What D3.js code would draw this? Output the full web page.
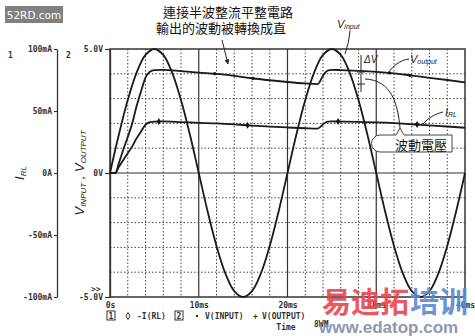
<!DOCTYPE html>
<html>
<head>
<meta charset="utf-8">
<script src="https://cdn.jsdelivr.net/npm/d3@7"></script>
<style>
  body { margin: 0; background: #fff; }
  svg { display: block; }
  .mono { font-family: "DejaVu Sans Mono", monospace; font-weight: bold; font-size: 8px; fill: #333; }
  .cjk { font-family: "Noto Sans CJK TC", sans-serif; font-size: 13px; fill: #111; }
  .lbl { font-family: "Liberation Sans", sans-serif; font-style: italic; fill: #222; }
</style>
</head>
<body>
<div id="graph"></div>
<script>
// input sine (V), read every 1 ms
var inT = [0,1,2,3,4,5,6,7,8,9,10,11,12,13,14,15,16,17,18,19,20,
           21,22,23,24,25,26,27,28,29,30,31,32,33,34,35,36,37,38,39,40];
var inV = [0,1.55,2.94,4.05,4.76,5.00,4.76,4.05,2.94,1.55,0,-1.55,-2.94,-4.05,-4.76,-5.00,-4.76,-4.05,-2.94,-1.55,0,
           1.55,2.94,4.05,4.76,5.00,4.76,4.05,2.94,1.55,0,-1.55,-2.94,-4.05,-4.76,-5.00,-4.76,-4.05,-2.94,-1.55,0];

// output voltage (V)
var outT = [0,0.6,1,1.5,2,2.5,3,3.5,4,4.5,5,6,8,10,12,14,16,18,20,22,23.4,23.7,24,24.3,24.6,25,26,28,30,32,34,36,38,40];
var outV = [0,0,0.4,0.95,1.45,2.0,2.7,3.3,3.85,4.08,4.15,4.16,4.11,4.05,4.0,3.92,3.82,3.74,3.67,3.61,3.58,3.72,3.92,4.07,4.14,4.16,4.15,4.12,4.08,4.02,3.93,3.84,3.75,3.65];

// load current I(RL) (mA)
var curT = [0,0.6,1,1.5,2,2.5,3,3.5,4,4.5,5,6,8,10,12,14,16,18,20,22,23.4,23.7,24,24.3,24.6,25,26,28,30,32,34,36,38,40];
var curA = [0,0,5,10.5,16,21.5,28,33.5,39,41,41.5,41.6,41.1,40.5,40.0,39.2,38.2,37.4,36.7,36.1,35.8,37.2,39.2,40.7,41.4,41.6,41.5,41.2,40.8,40.2,39.3,38.4,37.5,36.5];

// marker positions (ms)
var curMarks = [5.5,15.5,25.7,34.6];
var outMarks = [11.8,16.1,31.5,33.8];

// tick labels
var xTicks = [0,10,20,30,40];
var xTickLabels = ["0s","10ms","20ms","30ms","40ms"];
var vTicks = [-5,0,5];
var vTickLabels = ["-5.0V","0V","5.0V"];
var iTicks = [-100,-50,0,50,100];
var iTickLabels = ["-100mA","-50mA","0A","50mA","100mA"];

var W = 475, H = 336;
var svg = d3.select("#graph").append("svg").attr("width", W).attr("height", H);

var x = d3.scaleLinear().domain([0, 40]).range([110, 465]);
var yV = d3.scaleLinear().domain([-5, 5]).range([297, 49]);
var yI = d3.scaleLinear().domain([-100, 100]).range([297, 49]);

// dotted grid
var gx = d3.range(2, 40, 2).filter(function(d){ return d % 10 != 0; });
var gy = d3.range(-4, 5, 1).filter(function(d){ return d != 0; });
svg.append("g").selectAll("line").data(gx).enter().append("line")
  .attr("x1", d => x(d)).attr("x2", d => x(d)).attr("y1", 49).attr("y2", 297)
  .attr("stroke", "#444").attr("stroke-width", 1).attr("stroke-dasharray", "1.5,2");
svg.append("g").selectAll("line").data(gy).enter().append("line")
  .attr("x1", 110).attr("x2", 465).attr("y1", d => yV(d)).attr("y2", d => yV(d))
  .attr("stroke", "#444").attr("stroke-width", 1).attr("stroke-dasharray", "1.5,2");
// solid grid
svg.append("g").selectAll("line").data([10,20,30]).enter().append("line")
  .attr("x1", d => x(d)).attr("x2", d => x(d)).attr("y1", 49).attr("y2", 297)
  .attr("stroke", "#333").attr("stroke-width", 1.2);
svg.append("line").attr("x1", 110).attr("x2", 465).attr("y1", yV(0)).attr("y2", yV(0))
  .attr("stroke", "#333").attr("stroke-width", 1.2);
svg.append("rect").attr("x", 110).attr("y", 49).attr("width", 355).attr("height", 248)
  .attr("fill", "none").attr("stroke", "#333").attr("stroke-width", 1.5);

// axes
var xAxis = svg.append("g").attr("transform", "translate(0,297)")
  .call(d3.axisBottom(x).tickValues(xTicks).tickSize(0).tickPadding(5)
    .tickFormat(function(d, i){ return xTickLabels[i]; }));
var vAxis = svg.append("g").attr("transform", "translate(110,0)")
  .call(d3.axisLeft(yV).tickValues(vTicks).tickSize(5).tickSizeOuter(0).tickPadding(2)
    .tickFormat(function(d, i){ return vTickLabels[i]; }));
var iAxis = svg.append("g").attr("transform", "translate(57,0)")
  .call(d3.axisLeft(yI).tickValues(iTicks).tickSize(3).tickSizeOuter(0).tickPadding(2)
    .tickFormat(function(d, i){ return iTickLabels[i]; }));
[xAxis, vAxis, iAxis].forEach(function(a){
  a.select(".domain").attr("stroke", "#333").attr("stroke-width", 1.3);
  a.selectAll(".tick line").attr("stroke", "#333").attr("stroke-width", 1.2);
  a.selectAll(".tick text").attr("class", "mono").attr("font-family", null).attr("font-size", null);
});
xAxis.select(".domain").remove();

svg.append("text").attr("class", "mono").attr("x", 8).attr("y", 58).text("1");
svg.append("text").attr("class", "mono").attr("x", 66).attr("y", 58).text("2");
svg.append("text").attr("class", "mono").attr("x", 91).attr("y", 292).text(">>");

// rotated axis titles
var t1 = svg.append("text").attr("class", "lbl").attr("font-size", 13)
  .attr("transform", "translate(24,173) rotate(-90)").attr("text-anchor", "middle");
t1.append("tspan").text("I");
t1.append("tspan").attr("font-size", 8).attr("dy", 2).text("RL");
var t2 = svg.append("text").attr("class", "lbl").attr("font-size", 13)
  .attr("transform", "translate(84,173) rotate(-90)").attr("text-anchor", "middle");
t2.append("tspan").text("V");
t2.append("tspan").attr("font-size", 8).attr("dy", 2).text("INPUT");
t2.append("tspan").attr("dy", -2).text(" , V");
t2.append("tspan").attr("font-size", 8).attr("dy", 2).text("OUTPUT");

// curves
svg.append("path").datum(d3.zip(inT, inV))
  .attr("fill", "none").attr("stroke", "#1a1a1a").attr("stroke-width", 1.8)
  .attr("d", d3.line().x(d => x(d[0])).y(d => yV(d[1])).curve(d3.curveCatmullRom));
svg.append("path").datum(d3.zip(outT, outV))
  .attr("fill", "none").attr("stroke", "#1a1a1a").attr("stroke-width", 1.8)
  .attr("d", d3.line().x(d => x(d[0])).y(d => yV(d[1])).curve(d3.curveMonotoneX));
svg.append("path").datum(d3.zip(curT, curA))
  .attr("fill", "none").attr("stroke", "#1a1a1a").attr("stroke-width", 1.8)
  .attr("d", d3.line().x(d => x(d[0])).y(d => yI(d[1])).curve(d3.curveMonotoneX));

// markers
var curAt = d3.scaleLinear().domain(curT).range(curA);
var outAt = d3.scaleLinear().domain(outT).range(outV);
svg.append("g").selectAll("path").data(curMarks).enter().append("path")
  .attr("transform", d => "translate(" + x(d) + "," + yI(curAt(d)) + ")")
  .attr("d", d3.symbol().type(d3.symbolDiamond).size(14)).attr("fill", "#111");
svg.append("g").selectAll("circle").data(outMarks).enter().append("circle")
  .attr("cx", d => x(d)).attr("cy", d => yV(outAt(d))).attr("r", 1.6).attr("fill", "#111");

// annotations
svg.append("defs").append("marker").attr("id", "arr").attr("viewBox", "0 0 10 10")
  .attr("refX", 9).attr("refY", 5).attr("markerWidth", 5).attr("markerHeight", 5).attr("orient", "auto")
  .append("path").attr("d", "M0,0 L10,5 L0,10 z").attr("fill", "#222");

svg.append("text").attr("class", "cjk").attr("x", 228).attr("y", 17).attr("text-anchor", "middle").text("連接半波整流平整電路");
svg.append("text").attr("class", "cjk").attr("x", 221).attr("y", 33).attr("text-anchor", "middle").text("輸出的波動被轉換成直");
svg.append("path").attr("d", "M222,40 L228,64").attr("stroke", "#222").attr("fill", "none").attr("marker-end", "url(#arr)");

var lv = svg.append("text").attr("class", "lbl").attr("x", 337).attr("y", 28).attr("font-size", 11);
lv.append("tspan").text("V");
lv.append("tspan").attr("font-size", 7).attr("dy", 1).text("input");
svg.append("path").attr("d", "M350,31 Q349,43 345,54").attr("stroke", "#222").attr("fill", "none");

svg.append("text").attr("class", "lbl").attr("x", 364).attr("y", 63).attr("font-size", 10).text("ΔV");
svg.append("path").attr("d", "M361,55 L361,92 M357,72 L365,72 M357,84 L365,84")
  .attr("stroke", "#222").attr("fill", "none");

var lo = svg.append("text").attr("class", "lbl").attr("x", 410).attr("y", 63).attr("font-size", 11);
lo.append("tspan").text("V");
lo.append("tspan").attr("font-size", 7).attr("dy", 1).text("output");
svg.append("path").attr("d", "M409,59 C400,60 393,66 388,73").attr("stroke", "#222").attr("fill", "none");

var li = svg.append("text").attr("class", "lbl").attr("x", 445).attr("y", 116).attr("font-size", 11);
li.append("tspan").text("I");
li.append("tspan").attr("font-size", 7).attr("dy", 1).text("RL");
svg.append("path").attr("d", "M443,112 C435,114 428,118 423,124").attr("stroke", "#222").attr("fill", "none");

svg.append("path").attr("d", "M365,79 C392,80 398,105 400,128").attr("stroke", "#222").attr("fill", "none");
svg.append("path").attr("d", "M380,135 L396,135 L400,128 L404,135 L452,135 L452,152 L380,152 A8.5,8.5 0 0 1 380,135 Z")
  .attr("fill", "#fff").attr("stroke", "#444").attr("stroke-width", 1);
svg.append("text").attr("class", "cjk").attr("x", 395).attr("y", 150).text("波動電壓");

// bottom legend
svg.append("rect").attr("x", 107).attr("y", 311).attr("width", 8).attr("height", 9).attr("fill", "none").attr("stroke", "#333");
svg.append("text").attr("class", "mono").attr("x", 111).attr("y", 319).attr("text-anchor", "middle").text("1");
svg.append("path").attr("transform", "translate(128,316)").attr("d", d3.symbol().type(d3.symbolDiamond).size(14))
  .attr("fill", "none").attr("stroke", "#333");
svg.append("text").attr("class", "mono").attr("x", 137).attr("y", 319).text("-I(RL)");
svg.append("rect").attr("x", 175).attr("y", 311).attr("width", 8).attr("height", 9).attr("fill", "none").attr("stroke", "#333");
svg.append("text").attr("class", "mono").attr("x", 179).attr("y", 319).attr("text-anchor", "middle").text("2");
svg.append("circle").attr("cx", 197).attr("cy", 316).attr("r", 1.2).attr("fill", "#333");
svg.append("text").attr("class", "mono").attr("x", 205).attr("y", 319).text("V(INPUT)");
svg.append("text").attr("class", "mono").attr("x", 253).attr("y", 319).text("+");
svg.append("text").attr("class", "mono").attr("x", 262).attr("y", 319).text("V(OUTPUT)");
svg.append("text").attr("class", "mono").attr("x", 286).attr("y", 330).attr("text-anchor", "middle").text("Time");
svg.append("text").attr("class", "mono").attr("x", 314).attr("y", 327).text("8WM");

// site watermarks
svg.append("rect").attr("x", 5).attr("y", 6).attr("width", 58).attr("height", 17).attr("fill", "#808080");
svg.append("text").attr("x", 34).attr("y", 19).attr("fill", "#fff").attr("text-anchor", "middle")
  .attr("font-family", "DejaVu Sans, sans-serif").attr("font-size", 10.5).text("52RD.com");
svg.append("text").attr("x", 322).attr("y", 313).attr("font-family", "Noto Sans CJK SC, sans-serif")
  .attr("font-weight", "bold").attr("font-size", 29).attr("fill", "#e8464e").attr("opacity", 0.9).text("易迪拓");
svg.append("text").attr("x", 410).attr("y", 313).attr("font-family", "Noto Sans CJK SC, sans-serif")
  .attr("font-weight", "bold").attr("font-size", 29).attr("fill", "#5a8ad0").attr("opacity", 0.9).text("培训");
svg.append("text").attr("x", 319).attr("y", 333).attr("font-family", "Liberation Sans, sans-serif")
  .attr("font-weight", "bold").attr("font-size", 17).attr("fill", "#7f8ea8").attr("opacity", 0.9).text("www.edatop.com");
</script>
</body>
</html>
